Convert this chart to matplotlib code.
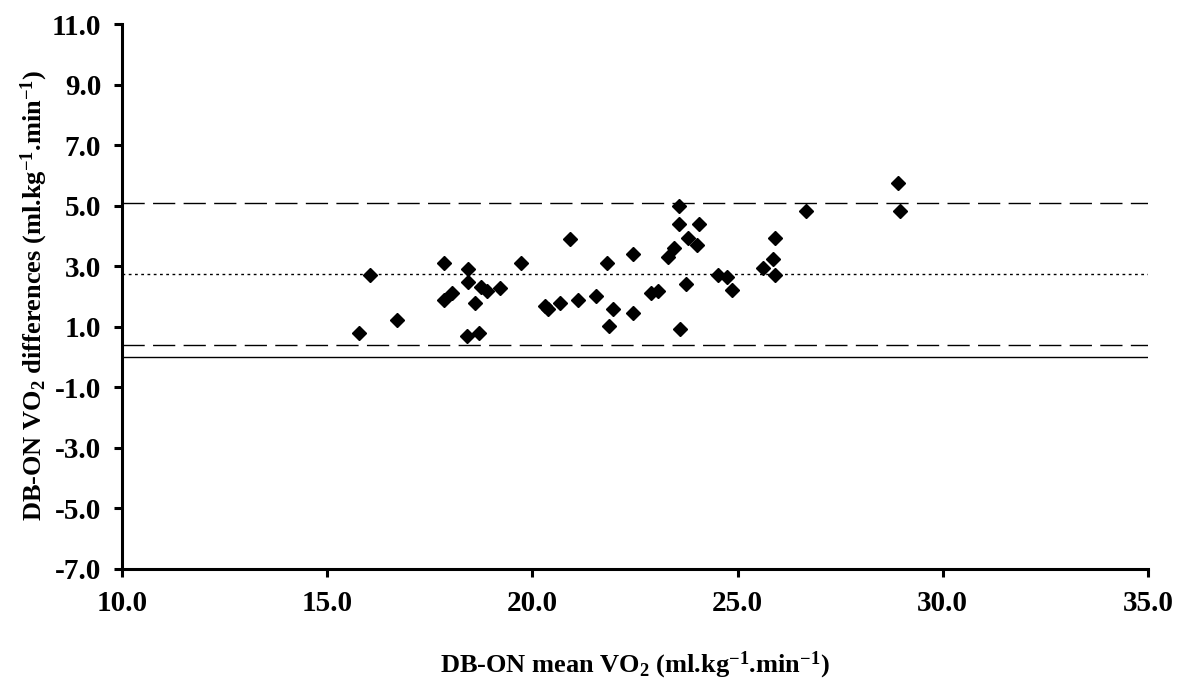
import numpy as np
import matplotlib
matplotlib.use('Agg')
import matplotlib.pyplot as plt

plt.rcParams['font.family'] = ['Liberation Serif', 'DejaVu Serif']
plt.rcParams['font.weight'] = 'bold'
plt.rcParams['mathtext.fontset'] = 'custom'
plt.rcParams['mathtext.rm'] = 'Liberation Serif:bold'
plt.rcParams['mathtext.bf'] = 'Liberation Serif:bold'
plt.rcParams['mathtext.it'] = 'Liberation Serif:bold'

# mean VO2 (x) and difference DB-ON (y)
mean_vo2 = [15.78, 16.04, 16.69, 17.84, 17.84, 18.04, 18.43, 18.43, 18.59, 18.41,
            18.69, 18.75, 18.90, 19.22, 19.72, 20.31, 20.38, 20.68, 20.92, 21.10,
            21.56, 21.82, 21.86, 21.96, 22.45, 22.45, 22.90, 23.07, 23.30, 23.44,
            23.56, 23.56, 23.60, 23.75, 23.80, 24.01, 24.05, 24.52, 24.74, 24.86,
            25.61, 25.86, 25.91, 25.91, 26.67, 28.92, 28.96]
diff_vo2 = [0.81, 2.71, 1.21, 3.10, 1.89, 2.11, 2.90, 2.49, 1.79, 0.69,
            0.81, 2.30, 2.19, 2.28, 3.12, 1.70, 1.60, 1.79, 3.89, 1.90,
            2.02, 3.12, 1.04, 1.60, 3.40, 1.44, 2.11, 2.19, 3.32, 3.62,
            4.99, 4.40, 0.92, 2.40, 3.92, 3.70, 4.40, 2.71, 2.63, 2.21,
            2.95, 3.23, 3.92, 2.71, 4.82, 5.76, 4.82]

bias = 2.74
loa_upper = 5.10
loa_lower = 0.40

fig = plt.figure(figsize=(11.79, 6.89), dpi=100)
ax = fig.add_axes([0.1035, 0.1742, 0.8702, 0.7908])

ax.axhline(0, color='black', lw=1.0)
ax.axhline(loa_upper, color='black', lw=1.0, dashes=(16, 6))
ax.axhline(loa_lower, color='black', lw=1.0, dashes=(16, 6))
ax.axhline(bias, color='black', lw=1.0, dashes=(2, 2.5))

ax.plot(mean_vo2, diff_vo2, 'D', color='black', ms=7.5, clip_on=False)

ax.set_xlim(10, 35)
ax.set_ylim(-7, 11)
ax.set_xticks(np.arange(10, 35.1, 5))
ax.set_yticks(np.arange(-7, 11.1, 2))
ax.xaxis.set_major_formatter(matplotlib.ticker.FormatStrFormatter('%.1f'))
ax.yaxis.set_major_formatter(matplotlib.ticker.FormatStrFormatter('%.1f'))

for s in ['top', 'right']:
    ax.spines[s].set_visible(False)
for s in ['left', 'bottom']:
    ax.spines[s].set_linewidth(2.2)
ax.tick_params(direction='out', length=6, width=2.2, labelsize=21, pad=9)

ax.set_xlabel(r'DB-ON mean VO$_2$ (ml.kg$^{-1}$.min$^{-1}$)', fontsize=19,
              fontweight='bold')
ax.set_ylabel(r'DB-ON VO$_2$ differences (ml.kg$^{-1}$.min$^{-1}$)', fontsize=19,
              fontweight='bold')
ax.xaxis.label.set_va('center')
ax.yaxis.label.set_va('center')
ax.xaxis.set_label_coords(0.5, -0.176)
ax.yaxis.set_label_coords(-0.085, 0.503)

fig.savefig('out.png', dpi=100)
